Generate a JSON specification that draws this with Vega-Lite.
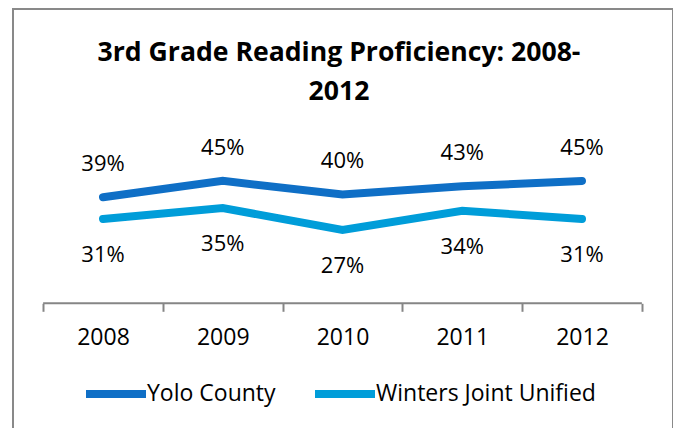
{
  "$schema": "https://vega.github.io/schema/vega-lite/v6.json",
  "width": 660,
  "height": 440,
  "autosize": {"type": "none"},
  "padding": {"left": 13, "top": 9, "right": 0, "bottom": 0},
  "background": "white",
  "config": {
    "view": {"stroke": "#898989", "strokeWidth": 2},
    "font": "Open Sans"
  },
  "title": {
    "text": ["3rd Grade Reading Proficiency: 2008-", "2012"],
    "font": "Open Sans",
    "fontSize": 26.6,
    "fontWeight": "bold",
    "color": "#000000",
    "anchor": "middle",
    "frame": "group",
    "baseline": "top",
    "offset": -97,
    "lineHeight": 39,
    "dx": -4
  },
  "data": {
    "values": [
      {"year": 2008, "series": "Yolo County", "value": 0.39},
      {"year": 2009, "series": "Yolo County", "value": 0.45},
      {"year": 2010, "series": "Yolo County", "value": 0.40},
      {"year": 2011, "series": "Yolo County", "value": 0.43},
      {"year": 2012, "series": "Yolo County", "value": 0.45},
      {"year": 2008, "series": "Winters Joint Unified", "value": 0.31},
      {"year": 2009, "series": "Winters Joint Unified", "value": 0.35},
      {"year": 2010, "series": "Winters Joint Unified", "value": 0.27},
      {"year": 2011, "series": "Winters Joint Unified", "value": 0.34},
      {"year": 2012, "series": "Winters Joint Unified", "value": 0.31}
    ]
  },
  "layer": [
    {
      "data": {"values": [{"axis": "x"}]},
      "mark": {"type": "rule", "color": "#868686", "strokeWidth": 2},
      "encoding": {
        "x": {"datum": 2007.5, "type": "quantitative"},
        "x2": {"datum": 2012.5},
        "y": {"datum": 0, "type": "quantitative", "axis": null}
      }
    },
    {
      "mark": {"type": "line", "strokeWidth": 8, "strokeCap": "round", "strokeJoin": "miter"},
      "encoding": {
        "x": {
          "field": "year",
          "type": "quantitative",
          "scale": {"domain": [2007.2484, 2012.7599], "nice": false, "zero": false},
          "axis": {
            "values": [2007.5, 2008, 2008.5, 2009, 2009.5, 2010, 2010.5, 2011, 2011.5, 2012, 2012.5],
            "labelExpr": "datum.value % 1 === 0 ? format(datum.value, 'd') : ''",
            "title": null,
            "domain": false,
            "grid": false,
            "offset": -145.7,
            "ticks": true,
            "tickSize": 8,
            "tickWidth": 2,
            "tickColor": "#868686",
            "tickOpacity": {"condition": {"test": "datum.value % 1 === 0", "value": 0}, "value": 1},
            "labelFont": "Open Sans",
            "labelFontSize": 23,
            "labelColor": "#000000",
            "labelPadding": 15,
            "labelFlush": false,
            "labelOverlap": false
          }
        },
        "y": {
          "field": "value",
          "type": "quantitative",
          "scale": {"domain": [-0.5357, 1.082], "nice": false, "zero": false},
          "axis": null
        },
        "color": {
          "field": "series",
          "type": "nominal",
          "sort": null,
          "scale": {"domain": ["Yolo County", "Winters Joint Unified"], "range": ["#0F6FC6", "#009DD9"]},
          "legend": {
            "title": null,
            "orient": "none",
            "direction": "horizontal",
            "legendX": 69,
            "legendY": 351,
            "symbolType": "stroke",
            "symbolSize": 3600,
            "symbolStrokeWidth": 8,
            "labelFont": "Open Sans",
            "labelFontSize": 23,
            "labelColor": "#000000",
            "labelOffset": -3,
            "labelLimit": 400,
            "columnPadding": 23,
            "padding": 0
          }
        }
      }
    },
    {
      "transform": [{"filter": "datum.series === 'Yolo County'"}],
      "mark": {"type": "text", "fontSize": 22, "font": "Open Sans", "color": "#000000", "dy": -33, "baseline": "middle"},
      "encoding": {
        "x": {"field": "year", "type": "quantitative"},
        "y": {"field": "value", "type": "quantitative"},
        "text": {"field": "value", "type": "quantitative", "format": ".0%"}
      }
    },
    {
      "transform": [{"filter": "datum.series === 'Winters Joint Unified'"}],
      "mark": {"type": "text", "fontSize": 22, "font": "Open Sans", "color": "#000000", "dy": 36, "baseline": "middle"},
      "encoding": {
        "x": {"field": "year", "type": "quantitative"},
        "y": {"field": "value", "type": "quantitative"},
        "text": {"field": "value", "type": "quantitative", "format": ".0%"}
      }
    }
  ]
}
